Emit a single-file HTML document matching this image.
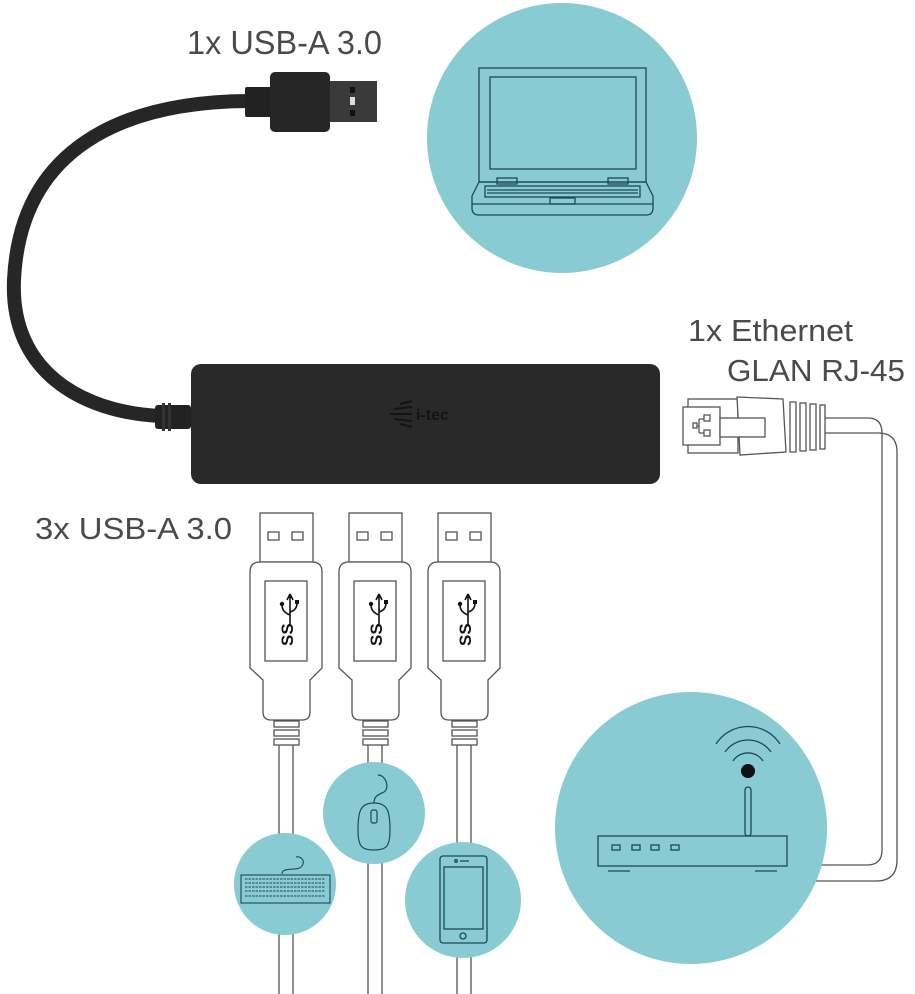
<!DOCTYPE html>
<html><head><meta charset="utf-8"><style>
html,body{margin:0;padding:0;background:#fff;}
svg{display:block;}
text{font-family:"Liberation Sans",sans-serif;fill:#4a4a4a;}
</style></head><body>
<svg width="915" height="994" viewBox="0 0 915 994" xmlns="http://www.w3.org/2000/svg">
<defs>
<g id="plug" fill="#fff" stroke="#555" stroke-width="1.3">
  <line x1="279" y1="745" x2="279" y2="994"/>
  <line x1="293" y1="745" x2="293" y2="994"/>
  <rect x="260" y="513" width="53" height="49"/>
  <rect x="268" y="532" width="11" height="8"/>
  <rect x="292" y="532" width="11" height="8"/>
  <path d="M250,572 Q250,562 260,562 L312,562 Q322,562 322,572 L322,668 L310,680 L310,712 Q310,720 302,720 L271,720 Q263,720 263,712 L263,680 L250,668 Z"/>
  <rect x="265" y="581" width="42" height="80"/>
  <rect x="274" y="721" width="25" height="6"/>
  <rect x="274" y="730" width="25" height="6"/>
  <rect x="274" y="739" width="25" height="6"/>
  <text x="0" y="0" transform="translate(293,646) rotate(-90)" font-size="17" font-weight="bold" style="fill:#111" stroke="none">SS</text>
  <path d="M290,626 L290,594 M290,594 L287,600 M290,594 L293,600 M290,615 Q282,612 282,605 M290,612 Q297,610 297,603" fill="none" stroke="#111" stroke-width="1.6"/>
  <circle cx="282" cy="604" r="2.2" fill="#111" stroke="none"/>
  <rect x="295" y="600" width="4" height="4" fill="#111" stroke="none"/>
</g>
</defs>

<text x="187" y="54" font-size="33" textLength="195" lengthAdjust="spacingAndGlyphs">1x USB-A 3.0</text>
<text x="688" y="341" font-size="31" textLength="165" lengthAdjust="spacingAndGlyphs">1x Ethernet</text>
<text x="727" y="381" font-size="31" textLength="178" lengthAdjust="spacingAndGlyphs">GLAN RJ-45</text>
<text x="35" y="539" font-size="31" textLength="197" lengthAdjust="spacingAndGlyphs">3x USB-A 3.0</text>

<circle cx="562" cy="138" r="135" fill="#88cbd2"/>
<g fill="none" stroke="#1d4a52" stroke-width="1.3">
  <rect x="479" y="68" width="167" height="114"/>
  <rect x="490" y="77" width="146" height="92"/>
  <rect x="497" y="178" width="20" height="6"/>
  <rect x="608" y="178" width="20" height="6"/>
  <path d="M479,182 L646,182 L653,196 L653,208 Q653,215 646,215 L479,215 Q472,215 472,208 L472,196 Z"/>
  <path d="M472,204 L653,204"/>
  <rect x="485" y="186" width="155" height="11"/>
  <line x1="487" y1="190" x2="638" y2="190"/>
  <line x1="487" y1="193" x2="638" y2="193"/>
  <rect x="550" y="198" width="25" height="6"/>
</g>

<path d="M248,101 C120,102 20,150 14,280 C10,370 80,412 160,416" fill="none" stroke="#262626" stroke-width="14" stroke-linecap="round"/>
<rect x="155" y="405" width="36" height="24" rx="3" fill="#222"/>
<rect x="162" y="403" width="3" height="28" fill="#333"/>
<rect x="168" y="403" width="3" height="28" fill="#333"/>
<rect x="245" y="87" width="28" height="30" rx="2" fill="#222"/>
<rect x="270" y="72" width="60" height="60" rx="5" fill="#262626"/>
<rect x="330" y="81" width="47" height="41" fill="#3a3a3a"/>
<rect x="350" y="87" width="5" height="6" fill="#111"/>
<rect x="350" y="97" width="5" height="8" fill="#ddd"/>
<rect x="350" y="110" width="5" height="6" fill="#111"/>

<rect x="191" y="364" width="469" height="120" rx="10" fill="#292929"/>
<text x="416" y="420" font-size="16" font-weight="bold" style="fill:#141414">i-tec</text>
<g stroke="#141414" stroke-width="2">
<line x1="390" y1="414" x2="412" y2="414"/><line x1="394" y1="409" x2="412" y2="407"/><line x1="394" y1="419" x2="412" y2="421"/><line x1="400" y1="404" x2="412" y2="401"/><line x1="400" y1="424" x2="412" y2="427"/>
</g>

<path d="M825,418 L868,418 Q882,418 882,433 L882,850 Q882,865 867,865 L780,865" fill="none" stroke="#555" stroke-width="1.3"/>
<path d="M825,433 L878,433 Q897,433 897,452 L897,860 Q897,881 876,881 L760,881" fill="none" stroke="#555" stroke-width="1.3"/>
<g fill="#fff" stroke="#555" stroke-width="1.3">
  <rect x="688" y="399" width="50" height="54"/>
  <rect x="683" y="407" width="37" height="38"/>
  <path d="M737,397 L783,399 L786,452 L740,455 Z"/>
  <rect x="720" y="418" width="45" height="19"/>
  <rect x="790" y="402" width="6" height="50"/>
  <rect x="800" y="403" width="6" height="48"/>
  <rect x="810" y="404" width="6" height="46"/>
  <rect x="820" y="405" width="5" height="44"/>
  <path d="M693,426 L699,426 M699,419 L699,433 M699,419 L704,419 M699,433 L704,433" fill="none"/>
  <rect x="693" y="423" width="4" height="5"/>
  <rect x="704" y="415" width="6" height="6"/>
  <rect x="704" y="430" width="6" height="6"/>
</g>

<circle cx="691" cy="828" r="136" fill="#88cbd2"/>
<g fill="none" stroke="#1d4a52" stroke-width="1.3">
  <rect x="598" y="836" width="189" height="30"/>
  <rect x="612" y="845" width="8" height="5"/>
  <rect x="632" y="845" width="8" height="5"/>
  <rect x="651" y="845" width="8" height="5"/>
  <rect x="671" y="845" width="8" height="5"/>
  <rect x="745" y="787" width="6" height="49" rx="3"/>
  <line x1="608" y1="871" x2="630" y2="871"/>
  <line x1="755" y1="871" x2="777" y2="871"/>
  <path d="M733,761 A18,18 0 0 1 763,761"/>
  <path d="M725,752 A28,28 0 0 1 771,752"/>
  <path d="M716,744 A38,38 0 0 1 780,744"/>
</g>
<circle cx="748" cy="771" r="7" fill="#111"/>

<use href="#plug"/>
<use href="#plug" transform="translate(89,0)"/>
<use href="#plug" transform="translate(178,0)"/>

<circle cx="374" cy="813" r="51" fill="#88cbd2"/>
<g fill="none" stroke="#1d4a52" stroke-width="1.2">
  <path d="M374,803 C360,803 358,812 358,830 C358,847 362,850 374,850 C386,850 390,847 390,830 C390,812 388,803 374,803 Z"/>
  <rect x="371" y="810" width="6" height="13" rx="2"/>
  <path d="M374,803 C374,796 378,795 384,792 C390,788 386,775 378,775"/>
</g>
<circle cx="285" cy="884" r="51" fill="#88cbd2"/>
<g fill="none" stroke="#1d4a52" stroke-width="1.1">
  <rect x="241" y="875" width="89" height="28"/>
  <path d="M282,874 C282,866 298,872 302,866 C306,860 300,856 296,857"/>
  <path d="M245,879 h80 M245,883 h80 M245,887 h80 M245,891 h80 M245,896 h80" stroke-dasharray="2.5 1"/>
</g>
<circle cx="463" cy="900" r="58" fill="#88cbd2"/>
<g fill="none" stroke="#1d4a52" stroke-width="1.3">
  <rect x="440" y="856" width="47" height="87" rx="3"/>
  <rect x="444" y="867" width="39" height="62"/>
  <circle cx="463" cy="936" r="3"/>
  <circle cx="456" cy="861" r="1.3"/>
  <line x1="460" y1="861" x2="469" y2="861"/>
</g>
</svg>
</body></html>
